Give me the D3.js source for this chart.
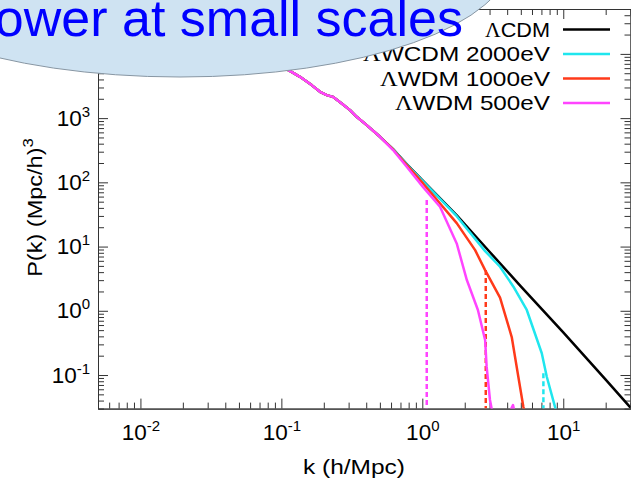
<!DOCTYPE html>
<html>
<head>
<meta charset="utf-8">
<script src="https://cdn.jsdelivr.net/npm/d3@7"></script>
<style>
body { margin: 0; background: #fff; }
svg { display: block; font-family: "Liberation Sans", Arial, Helvetica, sans-serif; }
</style>
</head>
<body>
<div id="chart"></div>
<script>
// low-k part, all four models lie on top of each other here
var kShared = [0.005, 0.01, 0.02, 0.05, 0.1, 0.118, 0.1355, 0.164, 0.188, 0.21, 0.232, 0.268, 0.307, 0.342, 0.403, 0.501];
var pShared = [12000, 20000, 25000, 15000, 6400, 5260, 4395, 3266, 2567, 2280, 2144, 1693, 1331, 1047, 778, 512];

// high-k tails, one per model
var kCDM = [0.62, 0.775, 1.0, 1.75, 3.0, 5.0, 10, 20, 30];
var pCDM = [330, 192, 108, 31, 8.3, 2.4, 0.46, 0.085, 0.031];
var k2000 = [0.62, 0.775, 1.0, 1.75, 2.79, 3.56, 4.43, 5.51, 7.04, 7.64, 8.74, 10];
var p2000 = [330, 190, 106, 30, 8.5, 4.85, 2.37, 1.03, 0.218, 0.094, 0.032, 0.01];
var k1000 = [0.62, 0.775, 1.01, 1.754, 2.37, 2.79, 3.56, 4.31, 4.80, 5.21, 6];
var p1000 = [325, 185, 97, 23.2, 8.8, 4.3, 1.6, 0.39, 0.094, 0.032, 0.01];
var k500 = [0.62, 0.775, 1.01, 1.335, 1.754, 2.07, 2.48, 2.79, 2.86, 3.02, 3.3, 4.0, 4.4, 4.8];
var p500 = [318, 175, 85, 41.6, 11.2, 3.01, 1.03, 0.351, 0.135, 0.041, 0.015, 0.022, 0.034, 0.015];

var seriesNames = ["CDM", "WCDM 2000eV", "WDM 1000eV", "WDM 500eV"];
var seriesColors = ["#000000", "#1fe6ee", "#ff3a1a", "#ff44ff"];
var legendWidths = [65, 187, 170, 155];

// dashed cut-off markers: k position and top of the dash (P)
var cutK = [7.23, 2.82, 1.075];
var cutP = [0.107, 4.3, 53];
var cutColors = ["#1fe6ee", "#ff3a1a", "#ff44ff"];

var xMajor = [0.01, 0.1, 1, 10];
var yMajor = [0.1, 1, 10, 100, 1000, 10000];
var yLabelled = [0.1, 1, 10, 100, 1000]; // 10^4 sits under the bubble
var xLabel = "k (h/Mpc)";
var yLabel = "P(k) (Mpc/h)";
var calloutText = "ower at small scales";

var W = 631, H = 482;
var margin = { top: 9, right: 0.5, bottom: 73.4, left: 98 };
var width = W - margin.left - margin.right;
var height = H - margin.top - margin.bottom;

var svg = d3.select("#chart").append("svg")
    .attr("width", W)
    .attr("height", H);

var g = svg.append("g")
    .attr("transform", "translate(" + margin.left + "," + margin.top + ")");

var x = d3.scaleLog().domain([0.005, 30]).range([0, width]);
var y = d3.scaleLog().domain([0.03, 5e4]).range([height, 0]);

function minorTicks(domain) {
    var out = [];
    for (var e = -3; e <= 5; e++) {
        for (var m = 2; m <= 9; m++) {
            var v = m * Math.pow(10, e);
            if (v >= domain[0] * 0.999 && v <= domain[1] * 1.001) out.push(v);
        }
    }
    return out;
}

function supLabel(sel) {
    sel.selectAll(".tick text").each(function (d) {
        var t = d3.select(this);
        var ex = Math.round(Math.log10(d));
        t.text(null);
        t.append("tspan").text("10");
        t.append("tspan").attr("dy", -9).attr("font-size", 15).text(ex);
    });
}

function styleAxis(sel) {
    sel.attr("font-family", null).attr("font-size", null);
    sel.selectAll("line").attr("stroke", "#333");
    sel.select(".domain").attr("stroke", "#333");
    sel.selectAll("text").attr("fill", "#000").attr("font-size", 22.5);
}

// bottom / left with labels, top / right without
var gx = g.append("g").attr("transform", "translate(0," + height + ")")
    .call(d3.axisBottom(x).tickValues(xMajor).tickSize(-10).tickSizeOuter(0).tickPadding(15));
styleAxis(gx); supLabel(gx);
g.append("g").attr("transform", "translate(0," + height + ")")
    .call(d3.axisBottom(x).tickValues(minorTicks(x.domain())).tickSize(-6).tickSizeOuter(0).tickFormat(""))
    .call(styleAxis);

var gy = g.append("g")
    .call(d3.axisLeft(y).tickValues(yLabelled).tickSize(-10).tickSizeOuter(0).tickPadding(8));
styleAxis(gy); supLabel(gy);
g.append("g")
    .call(d3.axisLeft(y).tickValues(yMajor.filter(function (v) { return yLabelled.indexOf(v) < 0; }))
        .tickSize(-10).tickSizeOuter(0).tickFormat(""))
    .call(styleAxis);
g.append("g")
    .call(d3.axisLeft(y).tickValues(minorTicks(y.domain())).tickSize(-6).tickSizeOuter(0).tickFormat(""))
    .call(styleAxis);

g.append("g")
    .call(d3.axisTop(x).tickValues(xMajor).tickSize(-10).tickSizeOuter(0).tickFormat(""))
    .call(styleAxis);
g.append("g")
    .call(d3.axisTop(x).tickValues(minorTicks(x.domain())).tickSize(-6).tickSizeOuter(0).tickFormat(""))
    .call(styleAxis);
g.append("g").attr("transform", "translate(" + width + ",0)")
    .call(d3.axisRight(y).tickValues(yMajor).tickSize(-10).tickSizeOuter(0).tickFormat(""))
    .call(styleAxis);
g.append("g").attr("transform", "translate(" + width + ",0)")
    .call(d3.axisRight(y).tickValues(minorTicks(y.domain())).tickSize(-6).tickSizeOuter(0).tickFormat(""))
    .call(styleAxis);

// curves
g.append("clipPath").attr("id", "plotclip")
    .append("rect").attr("width", width).attr("height", height);

var tails = [[kCDM, pCDM], [k2000, p2000], [k1000, p1000], [k500, p500]];
var series = tails.map(function (t) {
    var ks = kShared.concat(t[0]);
    var ps = pShared.concat(t[1]);
    return ks.map(function (k, i) { return [k, ps[i]]; });
});

var line = d3.line()
    .x(function (d) { return x(d[0]); })
    .y(function (d) { return y(d[1]); });

var plot = g.append("g").attr("clip-path", "url(#plotclip)");

cutK.forEach(function (k, i) {
    plot.append("line")
        .attr("x1", x(k)).attr("x2", x(k))
        .attr("y1", y(cutP[i])).attr("y2", height)
        .attr("stroke", cutColors[i])
        .attr("stroke-width", 2.5)
        .attr("stroke-dasharray", "5,3");
});

series.forEach(function (s, i) {
    plot.append("path")
        .datum(s)
        .attr("fill", "none")
        .attr("stroke", seriesColors[i])
        .attr("stroke-width", 2.5)
        .attr("stroke-linejoin", "round")
        .attr("d", line);
});

// legend
var legend = svg.append("g");
seriesNames.forEach(function (name, i) {
    var ry = 29.5 + i * 24.5;
    var t = legend.append("text")
        .attr("x", 550).attr("y", ry + 7)
        .attr("text-anchor", "end")
        .attr("font-size", 21)
        .attr("textLength", legendWidths[i])
        .attr("lengthAdjust", "spacingAndGlyphs");
    t.append("tspan").attr("font-family", "'Liberation Serif', 'Times New Roman', serif").text("\u039B");
    t.append("tspan").text(name);
    legend.append("line")
        .attr("x1", 563).attr("x2", 610)
        .attr("y1", ry).attr("y2", ry)
        .attr("stroke", seriesColors[i])
        .attr("stroke-width", 2.5);
});

// axis titles
svg.append("text")
    .attr("x", 354).attr("y", 474)
    .attr("text-anchor", "middle")
    .attr("font-size", 21)
    .attr("textLength", 102)
    .attr("lengthAdjust", "spacingAndGlyphs")
    .text(xLabel);

var yt = svg.append("text")
    .attr("transform", "translate(42,207.5) rotate(-90) scale(1.12,1)")
    .attr("text-anchor", "middle")
    .attr("font-size", 21);
yt.append("tspan").text(yLabel);
yt.append("tspan").attr("dy", -9).attr("font-size", 15).text("3");

// callout bubble over the top-left corner
svg.append("ellipse")
    .attr("cx", 180).attr("cy", -40)
    .attr("rx", 330).attr("ry", 117)
    .attr("fill", "#cfe3f2")
    .attr("stroke", "#8796a3")
    .attr("stroke-width", 1);

svg.append("text")
    .attr("x", 463).attr("y", 35.5)
    .attr("text-anchor", "end")
    .attr("font-size", 52)
    .attr("fill", "#0000ff")
    .text(calloutText);
</script>
</body>
</html>
